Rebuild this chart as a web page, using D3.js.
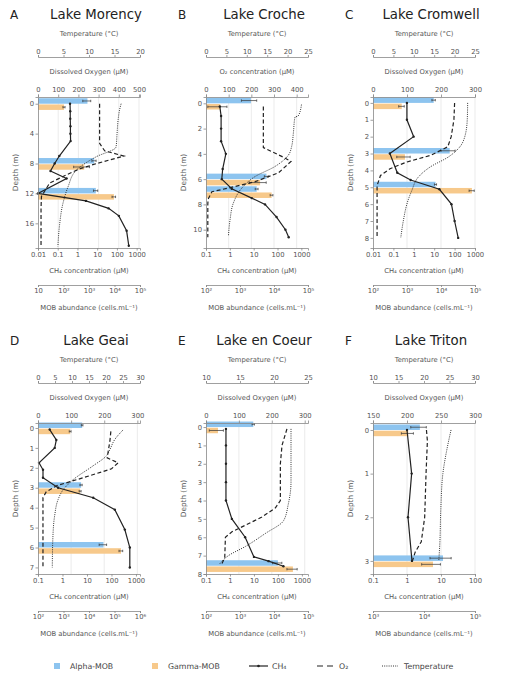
<!DOCTYPE html>
<html>
<head>
<meta charset="utf-8">
<script src="https://cdn.jsdelivr.net/npm/d3@7"></script>
<style>
  body { margin: 0; background: #fff; }
  svg text { font-family: "DejaVu Sans", sans-serif; }
</style>
</head>
<body>
<div id="chart"></div>
<script>
'use strict';

// ---- panel labels ----
const letters = ['A', 'B', 'C', 'D', 'E', 'F'];
const lakes = ['Lake Morency', 'Lake Croche', 'Lake Cromwell', 'Lake Geai', 'Lake en Coeur', 'Lake Triton'];
const o2Titles = ['Dissolved Oxygen (µM)', 'O₂ concentration (µM)', 'Dissolved Oxygen (µM)',
                  'Dissolved Oxygen (µM)', 'Dissolved Oxygen (µM)', 'Dissolved Oxygen (µM)'];

// ---- axis domains and ticks ----
const tempDomains = [[0, 20], [0, 25], [0, 25], [0, 30], [10, 25], [10, 30]];
const tempTicks = [[0, 5, 10, 15, 20], [0, 5, 10, 15, 20, 25], [0, 5, 10, 15, 20, 25],
                   [0, 5, 10, 15, 20, 25, 30], [10, 15, 20, 25], [10, 15, 20, 25, 30]];
const o2Domains = [[0, 505], [0, 450], [0, 300], [0, 308], [0, 310], [150, 300]];
const o2Ticks = [[0, 100, 200, 300, 400, 500], [0, 100, 200, 300, 400], [0, 100, 200, 300],
                 [0, 100, 200, 300], [0, 100, 200, 300], [150, 200, 250, 300]];
const ch4Domains = [[0.01, 1480], [0.1, 1900], [0.01, 1000], [0.1, 1460], [0.1, 1800], [0.1, 100]];
const ch4Ticks = [[0.01, 0.1, 1, 10, 100, 1000], [0.1, 1, 10, 100, 1000], [0.01, 0.1, 1, 10, 100, 1000],
                  [0.1, 1, 10, 100, 1000], [0.1, 1, 10, 100, 1000], [0.1, 1, 10, 100]];
const mobDomains = [[10, 1e5], [1e2, 1e5], [1e2, 1e5], [1e2, 1e6], [1e2, 1e5], [1e3, 1e5]];
const mobTicks = [[10, 1e2, 1e3, 1e4, 1e5], [1e2, 1e3, 1e4, 1e5], [1e2, 1e3, 1e4, 1e5],
                  [1e2, 1e3, 1e4, 1e5, 1e6], [1e2, 1e3, 1e4, 1e5], [1e3, 1e4, 1e5]];
const depthDomains = [[-0.9, 19.3], [-0.5, 11.45], [-0.35, 8.6], [-0.25, 7.33], [-0.22, 8.0], [-0.16, 3.3]];
const depthTicks = [[0, 4, 8, 12, 16], [0, 2, 4, 6, 8, 10], [0, 1, 2, 3, 4, 5, 6, 7, 8],
                    [0, 1, 2, 3, 4, 5, 6, 7], [0, 1, 2, 3, 4, 5, 6, 7, 8], [0, 1, 2, 3]];

// ---- MOB abundance bars (cells/mL) ----
const mobDepth = [[0, 8, 12], [0, 6, 7], [0, 3, 5], [0, 3, 6], [0, 7.55], [0, 3]];
const alphaMob = [[870, 1600, 1850], [2100, 6000, 3100], [6100, 18000, 6900],
                  [5400, 4900, 37000], [2460, 13000], [8300, 23600]];
const alphaErr = [[300, 300, 350], [1000, 800, 300], [700, 8000, 500],
                  [400, 500, 12000], [200, 4000], [2800, 10500]];
const gammaMob = [[105, 650, 9500], [263, 3900, 8500], [700, 870, 81000],
                  [1830, 4500, 180000], [225, 36000], [4900, 15000]];
const gammaErr = [[10, 400, 1500], [150, 2000, 800], [130, 370, 14000],
                  [150, 400, 30000], [100, 12000], [1300, 6000]];

// ---- CH4 profiles (µM) ----
const ch4Depth = [
  [0, 1, 2, 3, 4, 5, 7, 8, 9, 10, 12, 13, 14, 15, 17, 19],
  [0.25, 1, 2, 3, 4, 5.2, 6, 6.76, 7.5, 8, 9, 10, 10.6],
  [0, 1, 2, 3, 4.14, 4.57, 5.12, 6, 7, 8],
  [0.08, 0.6, 1, 1.75, 2.1, 2.5, 3, 3.5, 4.1, 5.1, 6, 7],
  [0.1, 1, 2, 3, 4, 5, 6, 7.07, 7.3, 7.58],
  [0, 1, 2, 3]
];
const ch4Value = [
  [0.42, 0.43, 0.43, 0.44, 0.44, 0.45, 0.12, 0.07, 0.043, 0.28, 0.01, 2.7, 38, 125, 310, 400],
  [0.38, 0.43, 0.43, 0.43, 0.68, 0.5, 0.46, 1.2, 8.3, 30, 91, 215, 295],
  [0.46, 0.46, 0.98, 0.067, 0.155, 0.7, 18, 70, 100, 150],
  [0.3, 0.56, 0.48, 0.11, 0.16, 0.16, 0.66, 18, 137, 350, 560, 560],
  [0.68, 0.68, 0.68, 0.68, 0.68, 1.2, 4.3, 10, 41, 170],
  [1.0, 1.37, 1.07, 1.4]
];

// ---- O2 profiles (µM) ----
const o2Depth = [
  [0, 1, 2, 3, 4, 5.3, 6.3, 7, 8, 8.7, 9.3, 10.6, 12.4, 14, 16, 19],
  [0.25, 1, 2, 3, 3.5, 4.2, 4.6, 5.5, 6.2, 6.7, 7, 7.6, 8, 9, 10, 10.6],
  [0, 1, 2, 2.6, 3.1, 3.5, 3.9, 4.3, 4.9, 6, 7, 8],
  [0.17, 0.67, 1.17, 1.5, 1.75, 2.05, 2.5, 2.9, 3.2, 3.5, 4, 5, 6, 7],
  [0.1, 1, 2, 3, 4, 4.4, 4.9, 5.7, 6, 7.1, 7.5],
  [0, 0.25, 1, 2, 2.56, 2.8, 3]
];
const o2Value = [
  [305, 305, 305, 305, 305, 305, 330, 425, 290, 208, 158, 58, 17, 15, 15, 15],
  [253, 253, 253, 253, 253, 334, 375, 320, 217, 100, 26, 9, 8, 8, 8, 8],
  [240, 238, 230, 220, 171, 100, 50, 22, 12, 12, 12, 12],
  [220, 217, 212, 209, 242, 222, 136, 56, 25, 15, 15, 15, 15, 15],
  [246, 231, 226, 226, 226, 211, 170, 79, 59, 57, 47],
  [228.6, 230, 228, 226, 221, 212, 208]
];

// ---- temperature profiles (°C) ----
const tempDepth = [
  [0, 0.8, 2.2, 4, 5.8, 7.1, 8.9, 11.1, 13.3, 16.4, 19.1],
  [0.1, 1, 1.1, 2.4, 3.4, 4.1, 5, 5.8, 6.7, 7.9, 9.2, 10.5],
  [0, 1, 2, 2.6, 3.2, 3.8, 4.4, 5.2, 6, 6.9, 8],
  [0.1, 0.6, 1.1, 1.4, 1.9, 2.6, 3.1, 3.6, 4.4, 5.4, 7],
  [0.1, 3, 4.2, 5.1, 5.8, 6.5, 7, 7.5],
  [0, 0.5, 1, 1.8, 2.6, 3]
];
const tempValue = [
  [16.3, 16.0, 15.7, 15.5, 15.3, 11.4, 7.5, 5.9, 4.9, 4.2, 3.9],
  [23.4, 22.6, 21.8, 21.4, 21.0, 20.2, 16.9, 12, 8.8, 6.7, 5.9, 5.5],
  [23.2, 23.1, 22.5, 21.3, 18.5, 14, 11.1, 9.5, 8.3, 7.5, 6.8],
  [25, 22.5, 21.1, 20.1, 16.2, 10.3, 7.4, 5.9, 4.9, 4.4, 4.2],
  [22.5, 22.5, 22.1, 21.4, 18.7, 15.8, 13.3, 11.9],
  [25.3, 24.4, 23.7, 23.3, 23.1, 22.9]
];

// ---- layout ----
const width = 506, height = 682;
const colX = [38, 206, 373];
const rowY = [97, 423];
const plotW = 102, plotH = 151;
const barH = 5.5, barGap = 0.7;
const blue = '#8dc4ef', orange = '#f7c98b';
const axisGrey = '#888', textGrey = '#555';
const tickFont = 6.8;

const svg = d3.select('#chart').append('svg')
  .attr('width', width)
  .attr('height', height);

const sup = { 1: '', 2: '²', 3: '³', 4: '⁴', 5: '⁵', 6: '⁶' };
const fmtMob = d => '10' + sup[Math.round(Math.log10(d))];
const fmtCh4 = d => (d >= 1 ? d3.format('d')(d) : String(d));

// tidy up an axis group
function styleAxis(sel) {
  sel.attr('font-size', null).attr('font-family', null);
  sel.select('.domain').attr('stroke', axisGrey).attr('stroke-width', 0.8);
  sel.selectAll('.tick line').attr('stroke', axisGrey).attr('stroke-width', 0.8);
  sel.selectAll('.tick text').attr('fill', textGrey).style('font-size', tickFont + 'px');
}

function axisTitle(g, x, y, txt, size) {
  g.append('text')
    .attr('x', x).attr('y', y)
    .attr('text-anchor', 'middle')
    .attr('fill', textGrey)
    .style('font-size', (size || tickFont) + 'px')
    .text(txt);
}

lakes.forEach((lake, i) => {
  const g = svg.append('g')
    .attr('transform', `translate(${colX[i % 3]},${rowY[Math.floor(i / 3)]})`);

  const y = d3.scaleLinear().domain(depthDomains[i]).range([0, plotH]);
  const xT = d3.scaleLinear().domain(tempDomains[i]).range([0, plotW]);
  const xO = d3.scaleLinear().domain(o2Domains[i]).range([0, plotW]);
  const xC = d3.scaleLog().domain(ch4Domains[i]).range([0, plotW]);
  const xM = d3.scaleLog().domain(mobDomains[i]).range([0, plotW]).clamp(true);

  // titles
  g.append('text')
    .attr('x', -28).attr('y', -78)
    .attr('fill', '#222')
    .style('font-size', '12px')
    .text(letters[i]);
  g.append('text')
    .attr('x', plotW / 2 + 7).attr('y', -78)
    .attr('text-anchor', 'middle')
    .attr('fill', '#222')
    .style('font-size', '13.3px')
    .text(lake);

  // faint gridlines at O2 ticks
  g.append('g').selectAll('line')
    .data(o2Ticks[i].filter(t => xO(t) > 1))
    .join('line')
    .attr('x1', d => xO(d)).attr('x2', d => xO(d))
    .attr('y1', 0).attr('y2', plotH)
    .attr('stroke', '#e6e6e6')
    .attr('stroke-width', 0.8);

  // MOB bars
  const bars = mobDepth[i].map((d, j) => ({
    d: d, a: alphaMob[i][j], ae: alphaErr[i][j], c: gammaMob[i][j], ce: gammaErr[i][j]
  }));
  g.append('g').selectAll('rect.alpha')
    .data(bars).join('rect')
    .attr('class', 'alpha')
    .attr('x', 0).attr('y', b => y(b.d) - barH)
    .attr('width', b => xM(b.a)).attr('height', barH)
    .attr('fill', blue);
  g.append('g').selectAll('rect.gamma')
    .data(bars).join('rect')
    .attr('class', 'gamma')
    .attr('x', 0).attr('y', b => y(b.d) + barGap)
    .attr('width', b => xM(b.c)).attr('height', barH)
    .attr('fill', orange);

  // error bars
  const errs = [];
  bars.forEach(b => {
    errs.push({ v: b.a, e: b.ae, cy: y(b.d) - barH / 2 });
    errs.push({ v: b.c, e: b.ce, cy: y(b.d) + barGap + barH / 2 });
  });
  const eg = g.append('g').attr('stroke', '#333').attr('stroke-width', 0.7);
  eg.selectAll('line.eb').data(errs).join('line')
    .attr('class', 'eb')
    .attr('x1', e => xM(e.v - e.e)).attr('x2', e => xM(e.v + e.e))
    .attr('y1', e => e.cy).attr('y2', e => e.cy);
  eg.selectAll('line.cl').data(errs).join('line')
    .attr('class', 'cl')
    .attr('x1', e => xM(e.v - e.e)).attr('x2', e => xM(e.v - e.e))
    .attr('y1', e => e.cy - 1.2).attr('y2', e => e.cy + 1.2);
  eg.selectAll('line.cr').data(errs).join('line')
    .attr('class', 'cr')
    .attr('x1', e => xM(e.v + e.e)).attr('x2', e => xM(e.v + e.e))
    .attr('y1', e => e.cy - 1.2).attr('y2', e => e.cy + 1.2);

  // temperature (dotted)
  const tPts = tempDepth[i].map((d, j) => [tempValue[i][j], d]);
  g.append('path')
    .datum(tPts)
    .attr('fill', 'none')
    .attr('stroke', '#333')
    .attr('stroke-width', 1)
    .attr('stroke-dasharray', '1,1.2')
    .attr('d', d3.line().x(p => xT(p[0])).y(p => y(p[1])).curve(d3.curveMonotoneY));

  // O2 (dashed)
  const oPts = o2Depth[i].map((d, j) => [o2Value[i][j], d]);
  g.append('path')
    .datum(oPts)
    .attr('fill', 'none')
    .attr('stroke', '#222')
    .attr('stroke-width', 1.2)
    .attr('stroke-dasharray', '4,2.5')
    .attr('d', d3.line().x(p => xO(p[0])).y(p => y(p[1])));

  // CH4 (solid with markers)
  const cPts = ch4Depth[i].map((d, j) => [ch4Value[i][j], d]);
  g.append('path')
    .datum(cPts)
    .attr('fill', 'none')
    .attr('stroke', '#222')
    .attr('stroke-width', 1.2)
    .attr('d', d3.line().x(p => xC(p[0])).y(p => y(p[1])));
  g.append('g').selectAll('circle')
    .data(cPts).join('circle')
    .attr('cx', p => xC(p[0])).attr('cy', p => y(p[1]))
    .attr('r', 1.2)
    .attr('fill', '#222');

  // axes
  g.append('g')
    .call(d3.axisLeft(y).tickValues(depthTicks[i]).tickFormat(d3.format('d')).tickSize(2.5).tickPadding(1.5))
    .call(styleAxis);

  g.append('g')
    .call(d3.axisTop(xO).tickValues(o2Ticks[i]).tickFormat(d3.format('d')).tickSize(2.5).tickPadding(2.5))
    .call(styleAxis);

  g.append('g')
    .attr('transform', 'translate(0,-40)')
    .call(d3.axisTop(xT).tickValues(tempTicks[i]).tickFormat(d3.format('d')).tickSize(2).tickPadding(1.5))
    .call(styleAxis);

  g.append('g')
    .attr('transform', `translate(0,${plotH})`)
    .call(d3.axisBottom(xC).tickValues(ch4Ticks[i]).tickFormat(fmtCh4).tickSize(2.5).tickPadding(1.5))
    .call(styleAxis);

  g.append('g')
    .attr('transform', `translate(0,${plotH + 37})`)
    .call(d3.axisBottom(xM).tickValues(mobTicks[i]).tickFormat(fmtMob).tickSize(2).tickPadding(1.5))
    .call(styleAxis);

  // axis titles
  axisTitle(g, plotW / 2, -61.5, 'Temperature (°C)');
  axisTitle(g, plotW / 2, -23.5, o2Titles[i]);
  axisTitle(g, plotW / 2, plotH + 24.5, 'CH₄ concentration (µM)');
  axisTitle(g, plotW / 2, plotH + 62, 'MOB abundance (cells.mL⁻¹)');
  g.append('text')
    .attr('transform', `translate(-20,${plotH / 2}) rotate(-90)`)
    .attr('text-anchor', 'middle')
    .attr('fill', textGrey)
    .style('font-size', '7.3px')
    .text('Depth (m)');
});

// ---- legend ----
const lg = svg.append('g').attr('transform', 'translate(0,666)');
const legFont = '7.8px';
lg.append('rect').attr('x', 54).attr('y', -3).attr('width', 6).attr('height', 6).attr('fill', blue);
lg.append('text').attr('x', 70).attr('y', 2.8).attr('fill', '#444').style('font-size', legFont).text('Alpha-MOB');
lg.append('rect').attr('x', 152).attr('y', -3).attr('width', 6).attr('height', 6).attr('fill', orange);
lg.append('text').attr('x', 168).attr('y', 2.8).attr('fill', '#444').style('font-size', legFont).text('Gamma-MOB');
lg.append('line').attr('x1', 249).attr('x2', 268).attr('y1', 0).attr('y2', 0)
  .attr('stroke', '#222').attr('stroke-width', 1.2);
lg.append('circle').attr('cx', 258.5).attr('cy', 0).attr('r', 1.3).attr('fill', '#222');
lg.append('text').attr('x', 272).attr('y', 2.8).attr('fill', '#444').style('font-size', legFont).text('CH₄');
lg.append('line').attr('x1', 317).attr('x2', 333).attr('y1', 0).attr('y2', 0)
  .attr('stroke', '#222').attr('stroke-width', 1.2).attr('stroke-dasharray', '6,4');
lg.append('text').attr('x', 339).attr('y', 2.8).attr('fill', '#444').style('font-size', legFont).text('O₂');
lg.append('line').attr('x1', 382).attr('x2', 398).attr('y1', 0).attr('y2', 0)
  .attr('stroke', '#333').attr('stroke-width', 1).attr('stroke-dasharray', '1,1.2');
lg.append('text').attr('x', 404).attr('y', 2.8).attr('fill', '#444').style('font-size', legFont).text('Temperature');
</script>
</body>
</html>
